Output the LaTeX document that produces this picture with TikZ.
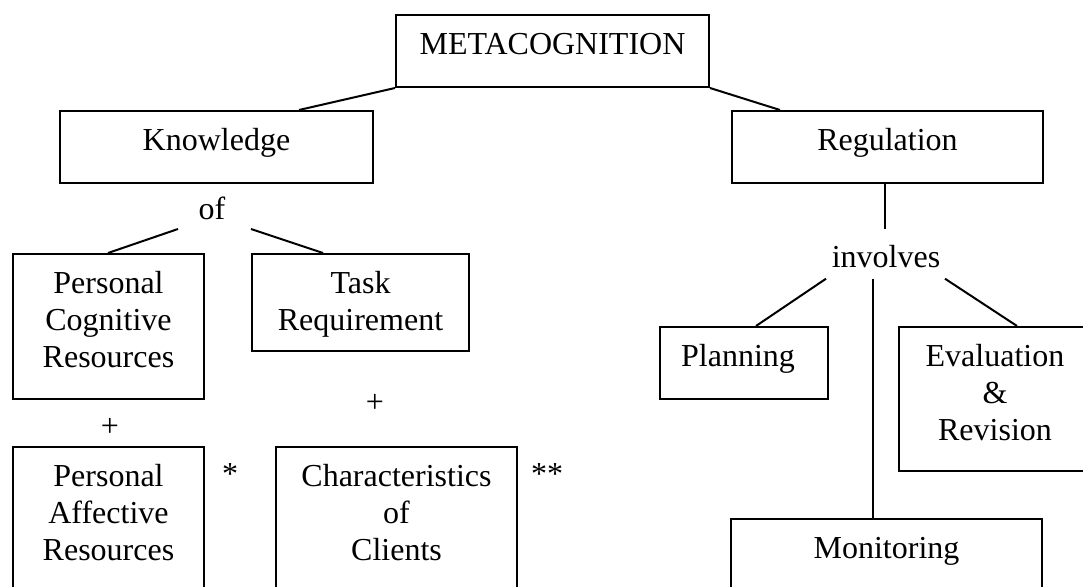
\documentclass[tikz,border=0pt]{standalone}
\usepackage{fontspec}
\setmainfont{Liberation Serif}
\newcommand\toprl{\rule{0pt}{12pt}}
\begin{document}
\begin{tikzpicture}[x=0.5pt,y=-0.5pt,
  box/.style={draw=black,line width=1pt,rectangle,inner sep=0pt,anchor=north west},
  txt/.style={font=\fontsize{16pt}{18.5pt}\selectfont,inner sep=0pt,align=center},
  conn/.style={draw=black,line width=1pt}]
\useasboundingbox (0,0) rectangle (1083,587);
\clip (0,0) rectangle (1083,587);
\fill[white] (0,0) rectangle (1083,587);

% boxes
\node[box,minimum width=156.5pt,minimum height=36pt] (meta) at (395,14) {};
\node[box,minimum width=156.5pt,minimum height=36pt] (know) at (59,110) {};
\node[box,minimum width=155.5pt,minimum height=36pt] (reg) at (731,110) {};
\node[box,minimum width=95.5pt,minimum height=72.5pt] (pcog) at (12,253) {};
\node[box,minimum width=108.5pt,minimum height=48.5pt] (task) at (251,253) {};
\node[box,minimum width=95.5pt,minimum height=82pt] (paff) at (12,446) {};
\node[box,minimum width=120.5pt,minimum height=82pt] (chars) at (275,446) {};
\node[box,minimum width=84pt,minimum height=36pt] (plan) at (659,326) {};
\node[box,minimum width=96pt,minimum height=72pt] (eval) at (898,326) {};
\node[box,minimum width=155.5pt,minimum height=51pt] (mon) at (730,518) {};

% box texts
\node[txt,anchor=north] (meta-t) at ([yshift=-8pt]meta.north) {\toprl METACOGNITION};
\node[txt,anchor=north] (know-t) at ([yshift=-8pt]know.north) {\toprl Knowledge};
\node[txt,anchor=north] (reg-t) at ([yshift=-8pt]reg.north) {\toprl Regulation};
\node[txt,anchor=north] (pcog-t) at ([yshift=-8pt]pcog.north) {\toprl Personal\\Cognitive\\Resources};
\node[txt,anchor=north] (task-t) at ([yshift=-8pt]task.north) {\toprl Task\\Requirement};
\node[txt,anchor=north] (paff-t) at ([yshift=-8pt]paff.north) {\toprl Personal\\Affective\\Resources};
\node[txt,anchor=north] (chars-t) at ([yshift=-8pt]chars.north) {\toprl Characteristics\\of\\Clients};
\node[txt,anchor=north] (plan-t) at ([xshift=-3pt,yshift=-8pt]plan.north) {\toprl Planning};
\node[txt,anchor=north] (eval-t) at ([yshift=-8pt]eval.north) {\toprl Evaluation\\\&\\Revision};
\node[txt,anchor=north] (mon-t) at ([yshift=-8pt]mon.north) {\toprl Monitoring};

% free labels
\node[txt,anchor=base] (of) at (212,220) {of};
\node[txt,anchor=base] (inv) at (886,268) {involves};
\node[txt,anchor=base] (plus1) at (110,437) {+};
\node[txt,anchor=base] (plus2) at (375,413) {+};
\node[txt,anchor=base] (star1) at (230,485) {*};
\node[txt,anchor=base] (star2) at (547,485) {**};

\coordinate (invtop) at ([yshift=8pt]inv.north);
\coordinate (regbot) at ([xshift=-1.5pt]reg.south);

% connectors
\draw[conn] (meta.south west) -- ([xshift=120pt]know.north west);
\draw[conn] (meta.south east) -- ([xshift=24.5pt]reg.north west);
\draw[conn] (regbot) -- (regbot |- invtop);
\draw[conn] ([xshift=-17pt,yshift=-4.5pt]of.base) -- ([xshift=48pt]pcog.north west);
\draw[conn] ([xshift=19.5pt,yshift=-4.5pt]of.base) -- ([xshift=36pt]task.north west);
\draw[conn] ([xshift=-30pt,yshift=-5pt]inv.south) -- ([xshift=6pt]plan.north);
\draw[conn] ([xshift=-6.5pt,yshift=-5pt]inv.south) -- ([xshift=71.5pt]mon.north west);
\draw[conn] ([xshift=29.5pt,yshift=-5pt]inv.south) -- ([xshift=59.5pt]eval.north west);
\end{tikzpicture}
\end{document}
